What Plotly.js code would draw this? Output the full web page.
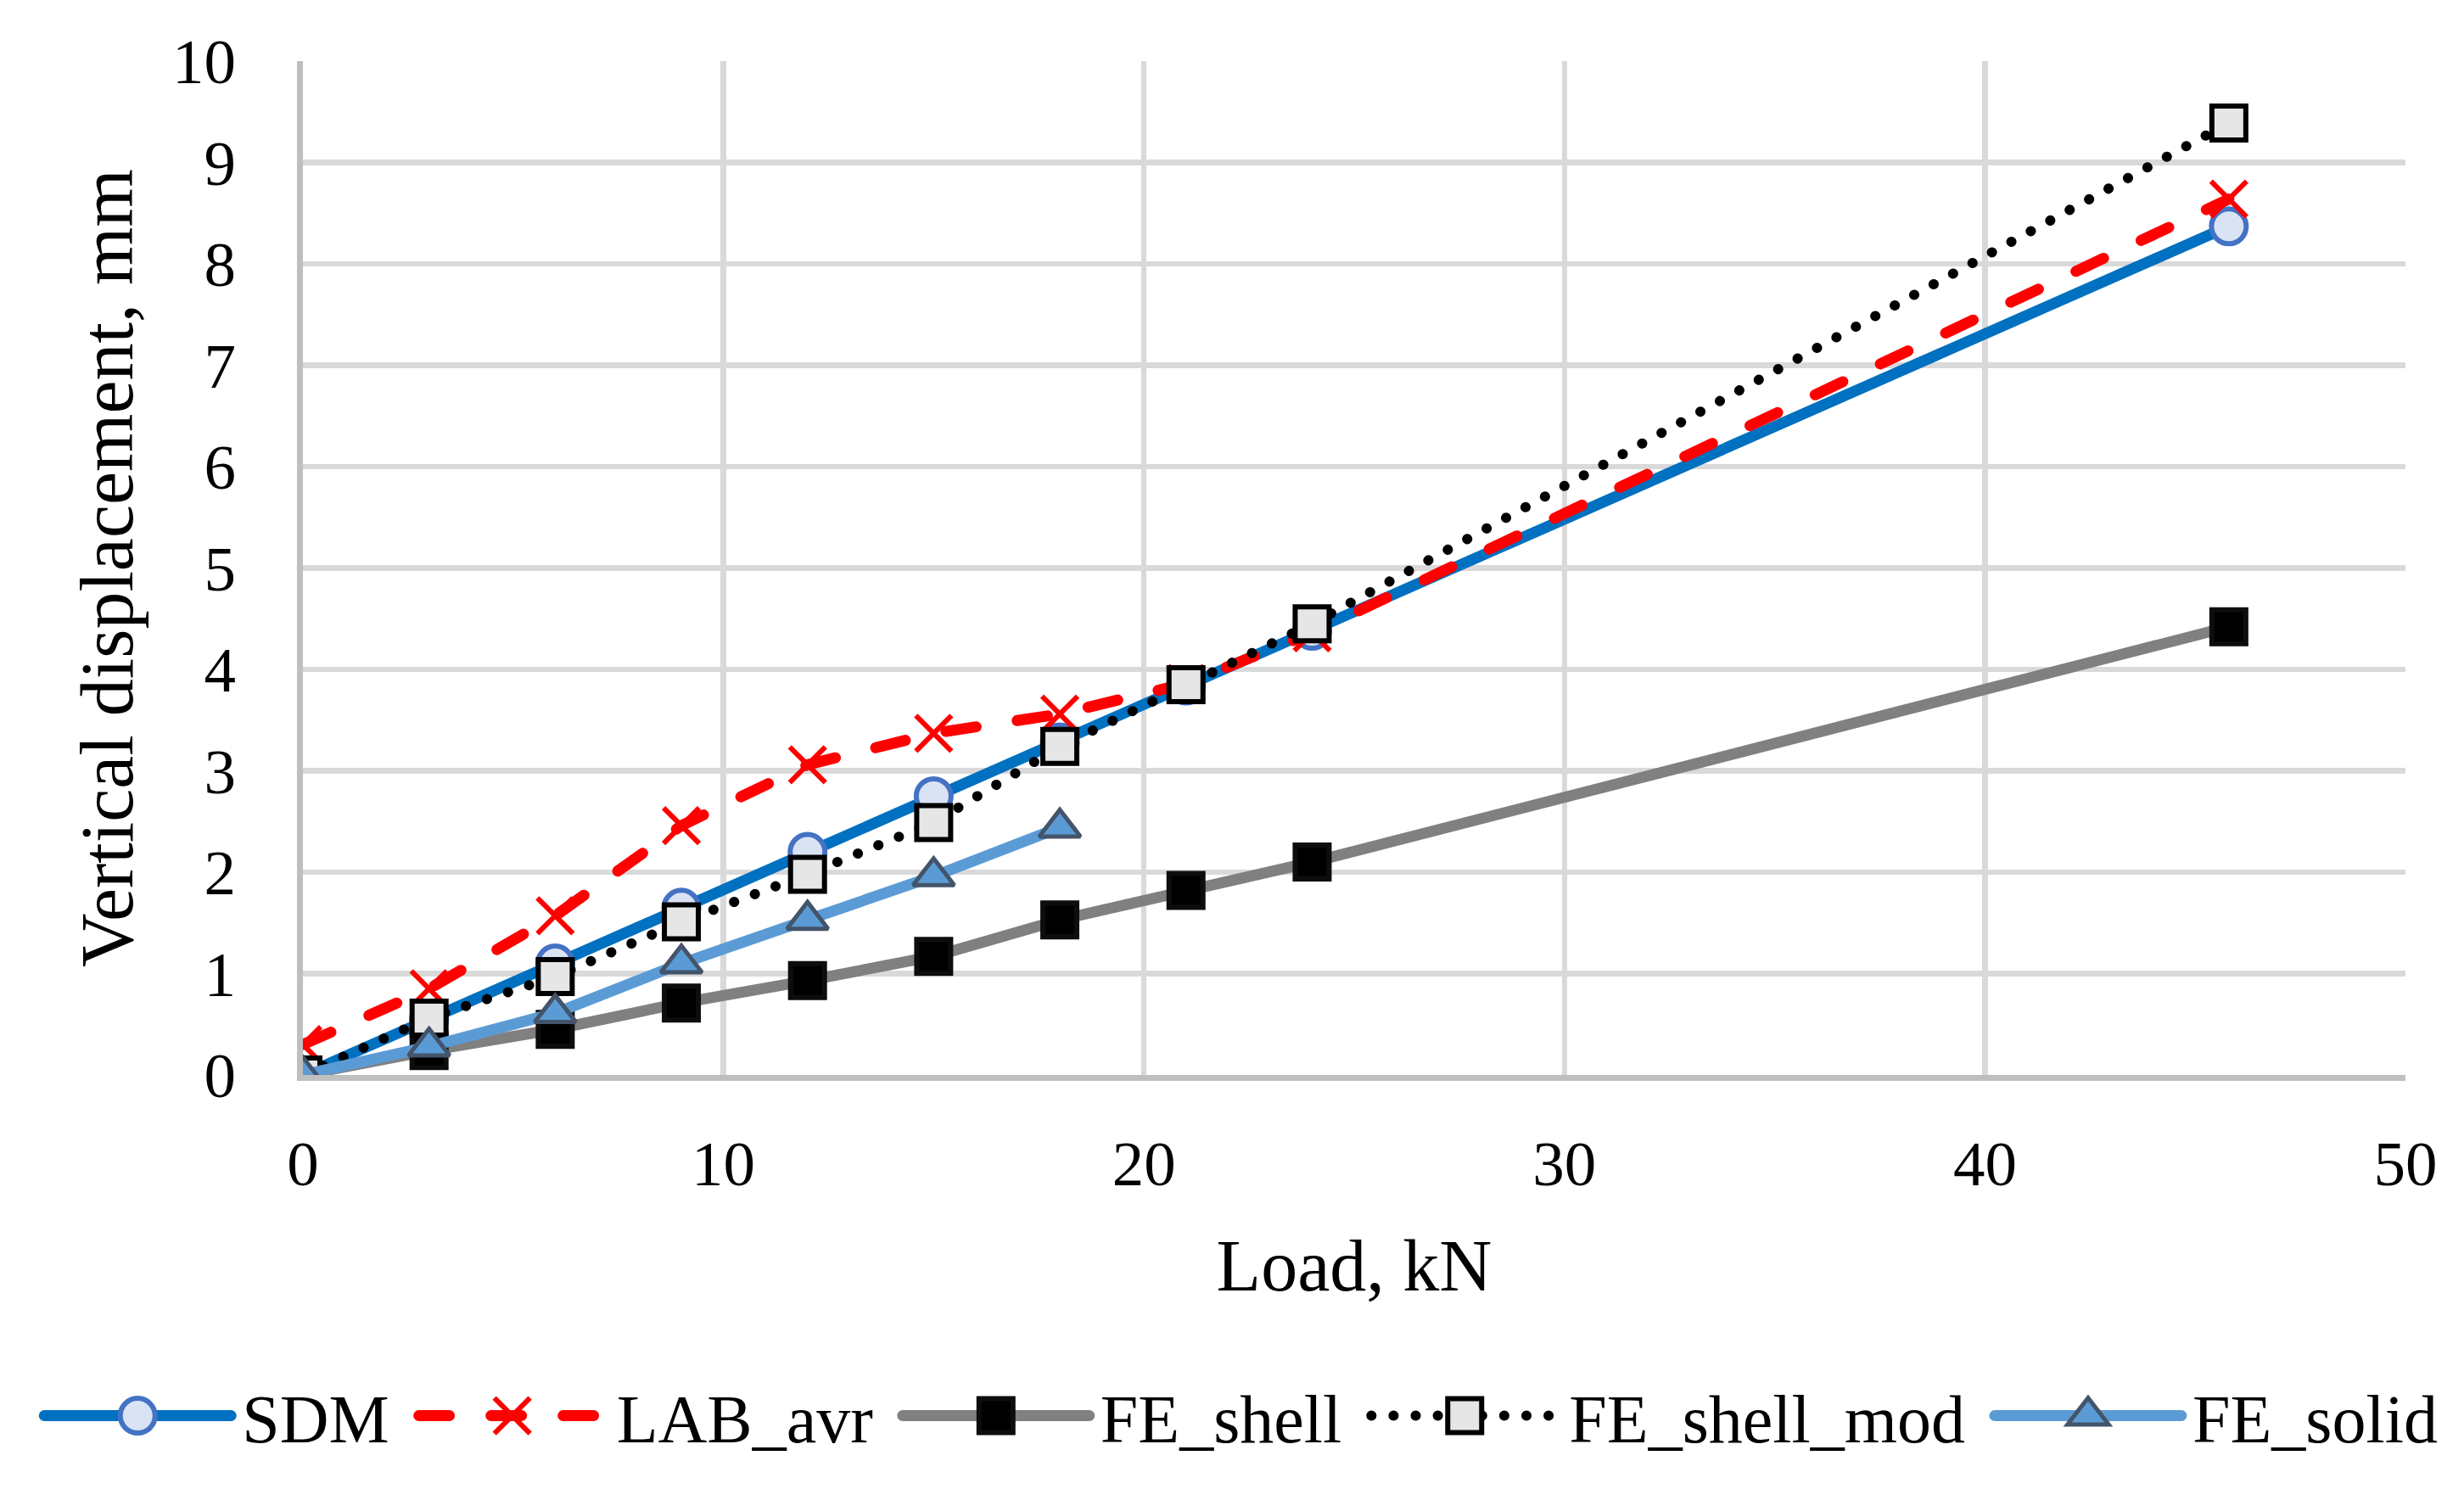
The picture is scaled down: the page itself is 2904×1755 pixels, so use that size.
<!DOCTYPE html>
<html>
<head>
<meta charset="utf-8">
<script src="https://cdn.plot.ly/plotly-3.0.1.min.js"></script>
<style>
  html, body { margin: 0; padding: 0; background: #ffffff; }
  #chart { width: 2904px; height: 1755px; }
  .js-line { stroke-linecap: round; stroke-linejoin: round; }
</style>
</head>
<body>
<div id="chart"></div>
<script>
// Load, kN
const loadX = [0, 3, 6, 9, 12, 15, 18, 21, 24, 45.8];
const loadSolid = [0, 3, 6, 9, 12, 15, 18];

// Vertical displacement, mm
const sdm        = [0, 0.55, 1.10, 1.65, 2.20, 2.75, 3.28, 3.84, 4.38, 8.37];
const labAvr     = [0.30, 0.85, 1.57, 2.46, 3.06, 3.37, 3.56, 3.86, 4.36, 8.64];
const feShell    = [0, 0.24, 0.45, 0.71, 0.93, 1.17, 1.53, 1.82, 2.10, 4.42];
const feShellMod = [0, 0.56, 0.97, 1.51, 1.98, 2.49, 3.24, 3.85, 4.45, 9.39];
const feSolid    = [0, 0.28, 0.61, 1.10, 1.53, 1.96, 2.44];

const seriesNames = ['SDM', 'LAB_avr', 'FE_shell', 'FE_shell_mod', 'FE_solid'];
const xTicks = [0, 10, 20, 30, 40, 50];
const yTicks = [0, 1, 2, 3, 4, 5, 6, 7, 8, 9, 10];

const FONT = '"Palatino Linotype", "Book Antiqua", Palatino, "Liberation Serif", "Times New Roman", serif';

const traces = [
  {
    x: loadX, y: sdm, name: seriesNames[0], type: 'scatter', mode: 'lines+markers',
    line: { color: '#0070C0', width: 13 },
    marker: { symbol: 'circle', size: 41, color: '#DAE3F3', line: { color: '#4472C4', width: 6 } }
  },
  {
    x: loadX, y: labAvr, name: seriesNames[1], type: 'scatter', mode: 'lines+markers',
    line: { color: '#FF0000', width: 13, dash: '36px,49px' },
    marker: { symbol: 'x-thin', size: 42, color: '#FF0000', line: { color: '#FF0000', width: 6 } }
  },
  {
    x: loadX, y: feShell, name: seriesNames[2], type: 'scatter', mode: 'lines+markers',
    line: { color: '#808080', width: 13 },
    marker: { symbol: 'square', size: 40, color: '#000000', line: { color: '#0D0D0D', width: 6 } }
  },
  {
    x: loadX, y: feShellMod, name: seriesNames[3], type: 'scatter', mode: 'lines+markers',
    line: { color: '#000000', width: 12, dash: '0.1px,26px' },
    marker: { symbol: 'square', size: 40, color: '#E7E6E6', line: { color: '#000000', width: 6 } }
  },
  {
    x: loadSolid, y: feSolid, name: seriesNames[4], type: 'scatter', mode: 'lines+markers',
    line: { color: '#5B9BD5', width: 13 },
    marker: { symbol: 'triangle-up', size: 42, color: '#5B9BD5', line: { color: '#44546A', width: 5 } }
  }
];

const layout = {
  width: 2904, height: 1755,
  paper_bgcolor: '#ffffff', plot_bgcolor: '#ffffff',
  font: { family: FONT, color: '#000000', size: 75 },
  margin: { l: 357, r: 69, t: 72, b: 488, pad: 0 },
  showlegend: true,
  legend: {
    orientation: 'h',
    x: -0.125, xanchor: 'left',
    y: -0.336, yanchor: 'middle',
    font: { family: FONT, size: 80, color: '#000000' },
    itemwidth: 220,
    bgcolor: 'rgba(0,0,0,0)',
    traceorder: 'normal'
  },
  xaxis: {
    range: [0, 50],
    tickvals: xTicks,
    ticktext: xTicks.map(String),
    showgrid: true, gridcolor: '#D9D9D9', gridwidth: 6.5,
    showline: true, linecolor: '#BFBFBF', linewidth: 7,
    zeroline: false,
    ticks: '', ticklabelstandoff: 33,
    tickfont: { family: FONT, size: 75, color: '#000000' },
    title: { text: 'Load, kN', font: { family: FONT, size: 86, color: '#000000' }, standoff: 51 },
    fixedrange: true
  },
  yaxis: {
    range: [0, 10],
    tickvals: yTicks,
    ticktext: yTicks.map(String),
    showgrid: true, gridcolor: '#D9D9D9', gridwidth: 6.5,
    showline: true, linecolor: '#BFBFBF', linewidth: 7,
    zeroline: false,
    ticks: '', ticklabelstandoff: 57,
    tickfont: { family: FONT, size: 75, color: '#000000' },
    title: { text: 'Vertical displacement, mm', font: { family: FONT, size: 88, color: '#000000' }, standoff: 20 },
    fixedrange: true
  }
};

Plotly.newPlot('chart', traces, layout, { displayModeBar: false, staticPlot: true }).then(function (gd) {
  // Make legend samples look like the plotted marks (full-size markers and line widths)
  const plotTraces = gd.querySelectorAll('.scatterlayer .trace');
  const legendItems = gd.querySelectorAll('.legend .traces');
  const itemShift = 33;   // extra gap between legend entries
  const textShift = 8;    // extra gap between sample and label
  gd.querySelectorAll('.legend [clip-path]').forEach(function (el) { el.removeAttribute('clip-path'); });
  legendItems.forEach(function (item, i) {
    const src = plotTraces[i];
    if (!src) return;
    const pt = src.querySelector('.points path.point');
    const lpt = item.querySelector('.legendpoints path.scatterpts');
    if (pt && lpt) {
      lpt.setAttribute('d', pt.getAttribute('d'));
      lpt.setAttribute('style', pt.getAttribute('style'));
    }
    const pl = src.querySelector('path.js-line');
    const ll = item.querySelector('.legendlines path.js-line');
    if (pl && ll) {
      ll.style.strokeWidth = pl.style.strokeWidth;
      ll.style.strokeDasharray = pl.style.strokeDasharray;
    }
    const txt = item.querySelector('text.legendtext');
    if (txt) {
      const x0 = parseFloat(txt.getAttribute('x')) || 0;
      txt.setAttribute('x', x0 + textShift);
    }
    const tr = item.getAttribute('transform') || '';
    const m = tr.match(/translate\(\s*([-\d.e]+)[ ,]\s*([-\d.e]+)\s*\)/);
    if (m) {
      item.setAttribute('transform', 'translate(' + (parseFloat(m[1]) + i * itemShift) + ',' + m[2] + ')');
    }
  });
});
</script>
</body>
</html>
